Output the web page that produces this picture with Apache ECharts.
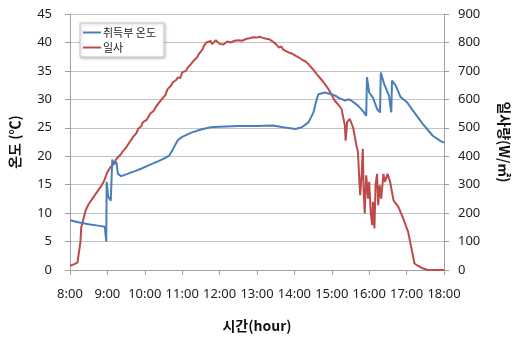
<!DOCTYPE html>
<html>
<head>
<meta charset="utf-8">
<script src="https://cdn.jsdelivr.net/npm/echarts@6/dist/echarts.min.js"></script>
<style>
html,body{margin:0;padding:0;background:#fff;}
#chart{width:519px;height:338px;}
</style>
</head>
<body>
<div id="chart"></div>
<script>
// ---- data (time in decimal hours) ----
const seriesNames = ['취득부 온도', '일사'];

const tempTimes = [8.00, 8.25, 8.50, 8.75, 8.93, 8.96, 8.97, 8.98, 9.02, 9.09, 9.11, 9.13, 9.17, 9.20, 9.24, 9.28, 9.37, 9.50, 9.70, 9.90, 10.10, 10.35, 10.55, 10.65, 10.75, 10.88, 11.00, 11.23, 11.50, 11.76, 12.00, 12.50, 13.00, 13.42, 13.70, 14.03, 14.20, 14.38, 14.51, 14.58, 14.64, 14.82, 15.08, 15.20, 15.35, 15.45, 15.52, 15.70, 15.85, 15.92, 15.94, 16.00, 16.10, 16.21, 16.29, 16.31, 16.40, 16.53, 16.59, 16.61, 16.71, 16.84, 17.01, 17.17, 17.43, 17.70, 17.90, 18.00];
const tempValues = [8.76, 8.35, 8.05, 7.8, 7.6, 7.55, 5.0, 15.5, 12.9, 12.2, 12.1, 19.4, 18.6, 18.4, 19.0, 16.9, 16.5, 16.8, 17.3, 17.8, 18.4, 19.1, 19.7, 20.1, 21.2, 22.8, 23.4, 24.1, 24.7, 25.1, 25.2, 25.3, 25.3, 25.4, 25.1, 24.8, 25.1, 26.0, 27.7, 29.6, 30.9, 31.2, 30.7, 30.2, 29.8, 30.0, 29.8, 28.9, 27.8, 27.1, 33.9, 31.2, 30.3, 28.3, 27.7, 34.7, 32.7, 30.6, 27.7, 33.3, 32.4, 30.4, 29.5, 28.0, 25.7, 23.6, 22.7, 22.4];

const irrTimes = [8.00, 8.10, 8.20, 8.25, 8.28, 8.30, 8.35, 8.42, 8.50, 8.60, 8.70, 8.82, 8.90, 9.00, 9.04, 9.07, 9.10, 9.13, 9.17, 9.20, 9.25, 9.30, 9.35, 9.40, 9.45, 9.50, 9.53, 9.56, 9.60, 9.65, 9.70, 9.75, 9.78, 9.82, 9.86, 9.90, 9.95, 10.00, 10.05, 10.09, 10.15, 10.20, 10.24, 10.28, 10.35, 10.40, 10.45, 10.50, 10.55, 10.61, 10.66, 10.70, 10.75, 10.80, 10.84, 10.88, 10.95, 11.00, 11.05, 11.10, 11.15, 11.20, 11.23, 11.30, 11.35, 11.40, 11.45, 11.50, 11.54, 11.58, 11.65, 11.70, 11.76, 11.80, 11.85, 11.90, 12.00, 12.05, 12.10, 12.20, 12.25, 12.30, 12.40, 12.50, 12.55, 12.60, 12.65, 12.72, 12.80, 12.85, 12.90, 13.00, 13.07, 13.15, 13.25, 13.33, 13.40, 13.50, 13.59, 13.65, 13.70, 13.80, 13.86, 13.95, 14.05, 14.12, 14.20, 14.30, 14.38, 14.50, 14.64, 14.78, 14.91, 15.00, 15.08, 15.18, 15.26, 15.35, 15.37, 15.41, 15.48, 15.57, 15.66, 15.70, 15.74, 15.76, 15.80, 15.83, 15.85, 15.88, 15.92, 15.97, 16.00, 16.04, 16.08, 16.10, 16.14, 16.17, 16.21, 16.24, 16.28, 16.32, 16.38, 16.42, 16.49, 16.56, 16.65, 16.78, 16.91, 17.04, 17.13, 17.21, 17.30, 17.43, 17.55, 17.70, 18.00];
const irrValues = [15, 20, 26, 30, 100, 150, 175, 210, 232, 251, 270, 292, 310, 344, 352, 360, 356, 367, 375, 380, 392, 397, 405, 415, 410, 430, 424, 443, 450, 460, 470, 465, 482, 496, 490, 505, 520, 515, 528, 531, 550, 545, 560, 570, 583, 578, 600, 595, 615, 636, 630, 648, 660, 655, 668, 677, 675, 695, 690, 700, 712, 706, 723, 735, 730, 748, 760, 765, 775, 788, 800, 798, 805, 794, 800, 808, 795, 800, 793, 803, 798, 800, 806, 808, 811, 806, 812, 813, 815, 810, 818, 817, 820, 816, 813, 811, 805, 795, 782, 786, 775, 768, 764, 760, 752, 747, 740, 733, 723, 705, 682, 660, 636, 615, 595, 580, 566, 508, 455, 520, 531, 501, 437, 415, 304, 263, 340, 426, 286, 198, 333, 251, 310, 204, 158, 240, 146, 298, 338, 228, 298, 251, 338, 310, 338, 310, 245, 222, 181, 134, 76, 23, 15, 6, 1, 0, 0];

const pair = (xs, ys) => xs.map((x, i) => [x, ys[i]]);

const chart = echarts.init(document.getElementById('chart'), null, {renderer: 'canvas'});
const font = 'Noto Sans';
const labelStyle = {color: '#222', fontSize: 13, fontFamily: font};
const nameStyle = {color: '#111', fontSize: 14, fontWeight: 'bold', fontFamily: 'Noto Sans CJK KR'};

chart.setOption({
  animation: false,
  backgroundColor: '#fff',
  grid: {left: 70, right: 67, top: 14, bottom: 67},
  legend: {
    orient: 'vertical',
    left: 80, top: 23,
    data: seriesNames,
    backgroundColor: '#fff',
    borderColor: '#c8c8c8',
    borderWidth: 1,
    padding: [4, 8, 4, 3],
    itemGap: 4,
    itemWidth: 18,
    itemHeight: 2,
    icon: 'rect',
    textStyle: {color: '#222', fontSize: 11, fontFamily: 'Noto Sans CJK KR', padding: [0, 0, 0, -3]},
    shadowColor: 'rgba(0,0,0,0.25)', shadowBlur: 3, shadowOffsetX: 1, shadowOffsetY: 1
  },
  xAxis: {
    type: 'value', min: 8, max: 18, interval: 1,
    name: '시간(hour)', nameLocation: 'middle', nameGap: 49,
    nameTextStyle: nameStyle,
    axisLine: {lineStyle: {color: '#a0a0a0', width: 1}},
    axisTick: {show: true, length: 5, lineStyle: {color: '#a0a0a0'}},
    axisLabel: Object.assign({margin: 18, formatter: v => v + ':00'}, labelStyle),
    splitLine: {show: false}
  },
  yAxis: [{
    type: 'value', min: 0, max: 45, interval: 5,
    name: '온도 (℃)', nameLocation: 'middle', nameGap: 48,
    nameTextStyle: nameStyle,
    axisLine: {show: true, lineStyle: {color: '#a0a0a0'}},
    axisTick: {show: true, length: 5, lineStyle: {color: '#a0a0a0'}},
    axisLabel: Object.assign({margin: 18}, labelStyle),
    splitLine: {show: true, lineStyle: {color: '#c4c4c4', width: 1}}
  }, {
    type: 'value', min: 0, max: 900, interval: 100, position: 'right',
    name: '일사량(W/㎡)', nameLocation: 'middle', nameGap: 53, nameRotate: -90,
    nameTextStyle: nameStyle,
    axisLine: {show: true, lineStyle: {color: '#a0a0a0'}},
    axisTick: {show: true, length: 5, lineStyle: {color: '#a0a0a0'}},
    axisLabel: Object.assign({margin: 14}, labelStyle),
    splitLine: {show: false}
  }],
  series: [{
    name: seriesNames[1], type: 'line', yAxisIndex: 1,
    data: pair(irrTimes, irrValues),
    showSymbol: false, symbol: 'none',
    lineStyle: {color: '#be4b48', width: 2}, itemStyle: {color: '#be4b48'}
  }, {
    name: seriesNames[0], type: 'line', yAxisIndex: 0,
    data: pair(tempTimes, tempValues),
    showSymbol: false, symbol: 'none',
    lineStyle: {color: '#4a7ebb', width: 2}, itemStyle: {color: '#4a7ebb'}
  }]
});
</script>
</body>
</html>
